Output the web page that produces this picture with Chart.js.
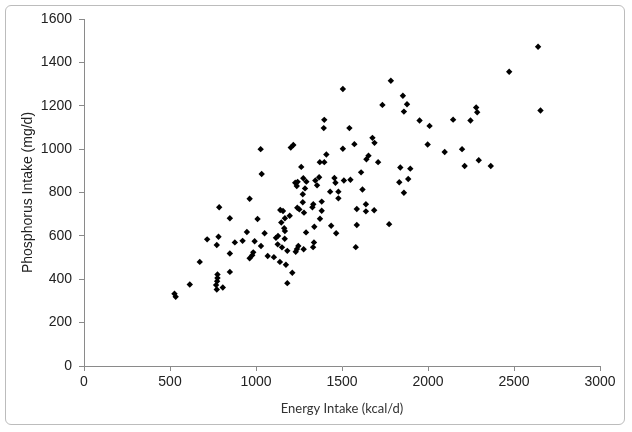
<!DOCTYPE html>
<html>
<head>
<meta charset="utf-8">
<script src="https://cdn.jsdelivr.net/npm/chart.js@4.4.1/dist/chart.umd.min.js"></script>
<style>
  html, body { margin: 0; padding: 0; background: #fff; }
  #wrap { position: relative; width: 632px; height: 432px; }
  #frame {
    position: absolute; left: 5px; top: 5px; width: 620px; height: 420px;
    border: 1px solid #bcbcbc; border-radius: 6px; box-sizing: border-box;
  }
  canvas { position: absolute; left: 0; top: 0; }
</style>
</head>
<body>
<div id="wrap">
  <div id="frame"></div>
  <canvas id="scatterChart" width="632" height="432"></canvas>
</div>
<script>
// Energy intake (kcal/d) and phosphorus intake (mg/d), one entry per subject
var energy = [
  2640, 2472, 2654, 1784, 1505, 1854, 1735, 1878, 1860, 2280,
  2286, 1951, 2146, 2247, 2009, 1397, 1394, 1543, 1677, 1689,
  1572, 1505, 1998, 1027, 1202, 1217, 2198, 2097, 1409, 1654,
  1642, 2295, 1371, 1397, 1710, 1263, 2213, 2365, 1839, 1897,
  1611, 1033, 1367, 1275, 1456, 1885, 1549, 1345, 1511, 1293,
  1228, 1242, 1462, 1833, 1237, 1355, 1285, 1619, 1431, 1479,
  1860, 1272, 1479, 963, 1382, 1272, 1333, 1328, 1639, 1141,
  1157, 1240, 1252, 1586, 1639, 1687, 1382, 1279, 1196, 1168,
  1372, 1009, 786, 848, 1147, 1586, 1774, 1437, 1339, 1164,
  1168, 947, 1291, 1050, 1466, 1128, 1116, 1167, 782, 716,
  922, 877, 992, 1337, 1126, 772, 1029, 1332, 1580, 1151,
  1246, 1238, 1277, 1182, 1231, 848, 984, 978, 963, 1068,
  1104, 673, 1139, 1174, 848, 1211, 776, 776, 774, 768,
  772, 807, 1182, 615, 526, 533
]
var phosphorus = [
  1472, 1357, 1178, 1315, 1277, 1246, 1204, 1207, 1173, 1192,
  1170, 1132, 1136, 1132, 1107, 1135, 1097, 1097, 1052, 1029,
  1023, 1002, 1021, 1000, 1007, 1019, 1000, 987, 975, 970,
  953, 949, 940, 940, 940, 918, 922, 922, 915, 910,
  893, 885, 870, 866, 867, 862, 859, 855, 855, 850,
  845, 849, 845, 847, 830, 833, 819, 814, 804, 804,
  799, 792, 773, 771, 758, 755, 746, 732, 746, 719,
  715, 730, 722, 724, 713, 718, 716, 707, 693, 681,
  679, 678, 732, 681, 662, 650, 654, 647, 642, 635,
  622, 618, 616, 612, 612, 600, 591, 587, 596, 584,
  577, 570, 575, 570, 561, 558, 553, 548, 548, 547,
  553, 539, 538, 531, 527, 519, 524, 511, 497, 507,
  502, 480, 480, 467, 434, 430, 422, 406, 391, 373,
  353, 362, 382, 376, 333, 319
]

var xTitle = 'Energy Intake (kcal/d)'
var yTitle = 'Phosphorus Intake (mg/d)'

var points = energy.map(function (e, i) {
  return { x: e, y: phosphorus[i] }
})

var axisColor = '#8a8a8a'
var tickFont = { family: "'Liberation Sans', Arial, sans-serif", size: 14 }

// plain numbers, no thousand separators
function plainTick(value) {
  return String(value)
}

var ctx = document.getElementById('scatterChart').getContext('2d')
new Chart(ctx, {
  type: 'scatter',
  data: {
    datasets: [
      {
        data: points,
        pointStyle: 'rectRot',
        pointRadius: 3.2,
        pointBorderWidth: 0,
        backgroundColor: '#000',
        borderColor: '#000'
      }
    ]
  },
  options: {
    responsive: false,
    animation: false,
    layout: { padding: { top: 19, right: 32, bottom: 0, left: 0 } },
    plugins: { legend: { display: false }, tooltip: { enabled: false } },
    scales: {
      x: {
        type: 'linear',
        min: 0,
        max: 3000,
        ticks: { stepSize: 500, color: '#222', font: tickFont, padding: 3, maxRotation: 0, callback: plainTick },
        grid: { drawOnChartArea: false, drawTicks: true, tickLength: 5, color: axisColor },
        border: { color: axisColor },
        title: {
          display: true,
          text: xTitle,
          color: '#333',
          font: { family: "Lato, 'Open Sans', sans-serif", size: 13 },
          padding: { top: 0, bottom: 15 }
        },
        afterFit: function (scale) { scale.height = 66 }
      },
      y: {
        min: 0,
        max: 1600,
        ticks: { stepSize: 200, color: '#222', font: tickFont, padding: 7, callback: plainTick },
        grid: { drawOnChartArea: false, drawTicks: true, tickLength: 5, color: axisColor },
        border: { color: axisColor },
        title: {
          display: true,
          text: yTitle,
          color: '#222',
          font: { family: "'Liberation Sans', Arial, sans-serif", size: 14 },
          padding: { top: 20, bottom: 0 }
        },
        afterFit: function (scale) { scale.width = 84 }
      }
    }
  }
})
</script>
</body>
</html>
